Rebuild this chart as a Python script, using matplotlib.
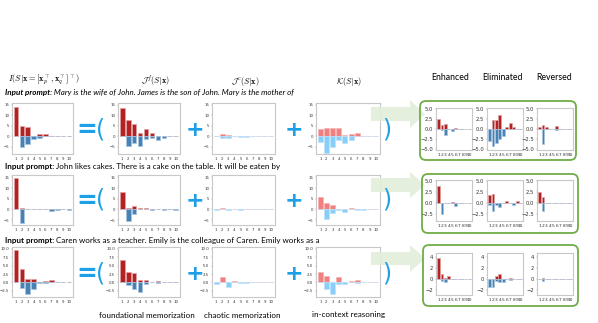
import numpy as np
import matplotlib.pyplot as plt
from matplotlib.patches import FancyBboxPatch, Polygon

W, H = 598, 323
plt.rcParams['mathtext.fontset'] = 'cm'

positions = np.arange(1, 11)
xtick_labels = [str(i) for i in positions]

# --- row 1: Mary / John / James ---
mary_I_pos = [13.7, 5.0, 4.5, 0, 1.0, 0.9, 0.1, 0, 0, 0]
mary_I_neg = [0, -5.2, -3.5, -1.5, -0.6, 0, 0, 0, 0, 0]
mary_Jf_pos = [13.2, 7.7, 5.6, 1.5, 3.4, 1.6, 0, 0, 0, 0]
mary_Jf_neg = [0, -4.4, -3.2, -4.8, -1.5, -0.6, -1.9, -0.8, 0, 0]
mary_Jc_pos = [0.3, 1.2, 0.8, 0.2, 0, 0.2, 0.1, 0, 0, 0]
mary_Jc_neg = [0, -0.8, -0.8, 0, -0.3, -0.3, 0, 0, 0, 0]
mary_K_pos = [3.3, 3.7, 3.8, 3.7, 0.5, 1.3, 1.6, 0.3, 0, 0]
mary_K_neg = [-2.8, -8.0, -5.2, -1.6, -3.2, -1.6, 0, 0, 0, 0]
mary_enh_pos = [2.4, 0.9, 1.3, 0, 0, 0.3, 0, 0, 0, 0]
mary_enh_neg = [0, -0.3, -1.6, 0, -0.6, 0, 0, 0, 0, 0]
mary_elim_pos = [0, 2.2, 2.2, 3.6, 0, 0.4, 1.4, 0.4, 0, 0]
mary_elim_neg = [-3.1, -4.2, -3.6, -2.4, -1.8, 0, 0, 0, 0, 0]
mary_rev_pos = [0.5, 1.0, 0.4, 0, 0, 0.7, 0, 0, 0, 0]
mary_rev_neg = [0, -3.9, 0, 0, 0, -0.3, 0, 0, 0, 0]

# --- row 2: John likes cakes ---
cake_I_pos = [14.5, 0.8, 0.4, 0.4, 0.4, 0.4, 0, 0, 0, 0]
cake_I_neg = [0, -6.5, 0, 0, 0, 0, -0.6, -0.3, 0, -0.1]
cake_Jf_pos = [8.0, 0.5, 1.5, 0.8, 0.8, 0, 0.2, 0.3, 0, 0]
cake_Jf_neg = [0, -5.3, -2.3, 0, 0, -0.3, 0, -0.3, 0, -0.5]
cake_Jc_pos = [0, 0.5, 0.1, 0.1, 0.1, 0.1, 0.1, 0.1, 0, 0.1]
cake_Jc_neg = [-0.4, 0, -0.1, 0, -0.1, 0, 0, 0, 0, 0]
cake_K_pos = [6.0, 3.0, 2.0, 0, 0.3, 0.5, 0, 0, 0, 0.3]
cake_K_neg = [0, -4.5, -1.6, -0.5, -1.0, 0, -0.4, -0.4, 0, 0]
cake_enh_pos = [3.9, 0, 0, 0, 0.2, 0, 0.1, 0, 0, 0]
cake_enh_neg = [0, -2.5, 0, 0, 0, -0.6, 0, 0, 0, 0]
cake_elim_pos = [1.9, 2.0, 0, 0, 0, 0.4, 0, 0, 0.4, 0]
cake_elim_neg = [-0.4, -1.7, -0.3, -0.9, 0, 0, 0, -0.3, 0, 0]
cake_rev_pos = [2.5, 1.3, 0, 0, 0, 0, 0, 0, 0, 0]
cake_rev_neg = [0, -1.7, 0, 0, 0, 0, 0, 0, 0, 0]

# --- row 3: Caren works as a teacher ---
caren_I_pos = [9.8, 4.0, 1.1, 1.0, 0, 0.3, 0.6, 0, 0, 0]
caren_I_neg = [0, -1.7, -3.4, -2.0, -0.3, -0.2, 0, 0, 0, 0]
caren_Jf_pos = [6.7, 3.2, 2.9, 0.7, 0.6, 0.1, 0.5, 0, 0, 0]
caren_Jf_neg = [0, -0.9, -1.9, -2.8, -0.4, 0, -0.3, 0, 0, 0]
caren_Jc_pos = [0, 1.6, 0, 0.4, 0, 0, 0.2, 0, 0, 0]
caren_Jc_neg = [-0.6, 0, -1.3, 0, -0.2, -0.2, 0, 0, 0, 0]
caren_K_pos = [3.2, 1.9, 0, 1.6, 0, 0.3, 0.6, 0, 0, 0]
caren_K_neg = [0, -1.9, -3.6, -0.5, -0.4, 0, -0.2, 0, 0, 0]
caren_enh_pos = [3.8, 0.9, 0.3, 0.5, 0, 0.1, 0.1, 0, 0, 0]
caren_enh_neg = [0, -0.3, -0.6, 0, 0, 0, 0, 0, 0, 0]
caren_elim_pos = [0, 0, 0.5, 0.9, 0, 0, 0.3, 0, 0, 0]
caren_elim_neg = [-1.5, -1.5, -0.3, -0.5, -0.5, 0, -0.2, 0, 0, 0]
caren_rev_pos = [0, 0.3, 0, 0, 0, 0, 0, 0, 0, 0]
caren_rev_neg = [0, -0.3, 0, 0, 0, 0, 0, 0, 0, 0]

prompt_rest = [
    ' Mary is the wife of John. James is the son of John. Mary is the mother of',
    ' John likes cakes. There is a cake on the table. It will be eaten by',
    ' Caren works as a teacher. Emily is the colleague of Caren. Emily works as a',
]
headers = [r'$\mathcal{J}^f(S|\mathbf{x})$', r'$\mathcal{J}^c(S|\mathbf{x})$',
           r'$\mathcal{K}(S|\mathbf{x})$']
column_names = ['Enhanced', 'Eliminated', 'Reversed']
bottom_names = ['foundational memorization', 'chaotic memorization', 'in-context reasoning']

SYM = '#1ea0e6'

fig = plt.figure(figsize=(W / 100, H / 100), dpi=100)


def px_box(x0, y0, x1, y1):
    return [x0 / W, 1 - y1 / H, (x1 - x0) / W, (y1 - y0) / H]


def bar_panel(rect, pos, neg, light, ylim, yticks, fmt, fs, xfs):
    ax = fig.add_axes(px_box(*rect))
    if light:
        red, blue, red_e, blue_e = '#f08080', '#87cefa', '#f6b3b3', '#bfe3fb'
    else:
        red, blue, red_e, blue_e = '#b22222', '#4682b4', '#e2a0a0', '#a9c4de'
    ax.bar(positions, pos, width=0.8, color=red, edgecolor=red_e, linewidth=0.5)
    ax.bar(positions, neg, width=0.8, color=blue, edgecolor=blue_e, linewidth=0.5)
    ax.set_xlim(0.3, 10.7)
    ax.set_ylim(*ylim)
    ax.set_xticks(positions)
    ax.set_xticklabels(xtick_labels, fontsize=xfs)
    ax.set_yticks(yticks)
    ax.set_yticklabels([fmt.format(v).replace('-', '\u2212') for v in yticks], fontsize=fs)
    ax.tick_params(length=1, width=0.3, pad=1, color='#999999', labelcolor='#333333')
    for s in ax.spines.values():
        s.set_color('#c8c8c8')
        s.set_linewidth(0.8)
    return ax


rows_y = [(103, 154), (175, 225), (247, 297)]
mini_y = [(108, 150), (180, 221), (253, 295)]
main_x = [(12, 73), (118, 180), (212, 275), (316, 380)]
mini_x = [(436, 472), (487, 523), (537, 573)]

main_data = [
    [(mary_I_pos, mary_I_neg), (mary_Jf_pos, mary_Jf_neg), (mary_Jc_pos, mary_Jc_neg), (mary_K_pos, mary_K_neg)],
    [(cake_I_pos, cake_I_neg), (cake_Jf_pos, cake_Jf_neg), (cake_Jc_pos, cake_Jc_neg), (cake_K_pos, cake_K_neg)],
    [(caren_I_pos, caren_I_neg), (caren_Jf_pos, caren_Jf_neg), (caren_Jc_pos, caren_Jc_neg), (caren_K_pos, caren_K_neg)],
]
mini_data = [
    [(mary_enh_pos, mary_enh_neg), (mary_elim_pos, mary_elim_neg), (mary_rev_pos, mary_rev_neg)],
    [(cake_enh_pos, cake_enh_neg), (cake_elim_pos, cake_elim_neg), (cake_rev_pos, cake_rev_neg)],
    [(caren_enh_pos, caren_enh_neg), (caren_elim_pos, caren_elim_neg), (caren_rev_pos, caren_rev_neg)],
]
main_ylim = [(-8.4, 15.8), (-7.3, 16.1), (-4.4, 10.6)]
main_ticks = [([-5, 0, 5, 10, 15], '{:.0f}'), ([-5, 0, 5, 10, 15], '{:.0f}'),
              ([-2.5, 0, 2.5, 5, 7.5, 10], '{:.1f}')]
mini_ylim = [(-5.3, 5.3), (-4.0, 5.2), (-2.9, 4.8)]
mini_ticks = [([-5, -2.5, 0, 2.5, 5], '{:.1f}'), ([-2.5, 0, 2.5, 5], '{:.1f}'),
              ([-2, 0, 2, 4], '{:.0f}')]

for r in range(3):
    y0, y1 = rows_y[r]
    for c in range(4):
        x0, x1 = main_x[c]
        pos, neg = main_data[r][c]
        bar_panel((x0, y0, x1, y1), pos, neg, c >= 2, main_ylim[r],
                  main_ticks[r][0], main_ticks[r][1], 2.8, 2.8)
    my0, my1 = mini_y[r]
    for c in range(3):
        x0, x1 = mini_x[c]
        pos, neg = mini_data[r][c]
        bar_panel((x0, my0, x1, my1), pos, neg, False, mini_ylim[r],
                  mini_ticks[r][0], mini_ticks[r][1], 3.8, 3.2)

# overlay in pixel coordinates for text, symbols, arrows and boxes
ov = fig.add_axes([0, 0, 1, 1], zorder=10)
ov.set_xlim(0, W)
ov.set_ylim(H, 0)
ov.axis('off')
ov.patch.set_alpha(0)

ov.text(8, 80, r'$I(S|\mathbf{x}=[\mathbf{x}_p^\top,\mathbf{x}_q^\top]^\top)$',
        fontsize=6, va='center', ha='left')
for x, h in zip([155, 245, 349], headers):
    ov.text(x, 81, h, fontsize=6, va='center', ha='center')
for x, name in zip([450, 502, 554], column_names):
    ov.text(x, 78, name, fontsize=6.3, va='center', ha='center', family='Lato')

prompt_y = [92, 167, 240]
for r in range(3):
    style = 'italic' if r == 0 else 'normal'
    t1 = ov.text(5, prompt_y[r], 'Input prompt:', fontsize=5.8, fontweight='bold',
                 style=style, family='Lato', va='center', ha='left')
    ov.annotate(prompt_rest[r], xy=(1, 0), xycoords=t1, fontsize=5.8, style=style,
                family='Lato', va='bottom', ha='left')

sym_y = [130, 201, 274]
boxes = [(420, 101, 576, 160), (422, 174, 578, 233), (423, 245, 578, 306)]
arrow_y = [(107, 121, 100, 128), (178, 192, 172, 198), (252, 265, 245, 272)]
for r in range(3):
    y = sym_y[r]
    ov.text(87, y, '=', fontsize=18, fontweight='bold', color=SYM, ha='center', va='center')
    ov.text(101, y - 1, '(', fontsize=17, color=SYM, ha='center', va='center')
    ov.text(195, y, '+', fontsize=16, fontweight='bold', color=SYM, ha='center', va='center')
    ov.text(294, y, '+', fontsize=16, fontweight='bold', color=SYM, ha='center', va='center')
    ov.text(387, y - 1, ')', fontsize=17, color=SYM, ha='center', va='center')

    b0, b1, h0, h1 = arrow_y[r]
    mid = (b0 + b1) / 2
    arrow = Polygon([(371, b0), (410, b0), (410, h0), (425, mid), (410, h1), (410, b1), (371, b1)],
                    closed=True, facecolor='#e2efda', edgecolor='none', alpha=0.92)
    ov.add_patch(arrow)

    bx0, by0, bx1, by1 = boxes[r]
    ov.add_patch(FancyBboxPatch((bx0, by0), bx1 - bx0, by1 - by0,
                                boxstyle='round,pad=0,rounding_size=6',
                                facecolor='none', edgecolor='#70ad47', linewidth=1.3))

for x, name in zip([147, 242, 348], bottom_names):
    ov.text(x, 315, name, fontsize=5.8, family='Lato', ha='center', va='center')

fig.savefig('out.png', dpi=100)
